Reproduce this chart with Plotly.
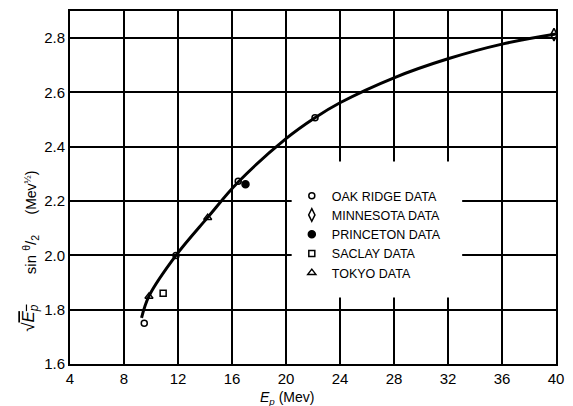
import plotly.graph_objects as go

# Measured points, E_p in MeV vs sqrt(E_p)*sin(theta/2)
oak_ridge_x = [9.5, 11.85, 16.46, 22.15]
oak_ridge_y = [1.75, 2.0, 2.273, 2.507]
minnesota_x = [39.85]
minnesota_y = [2.813]
princeton_x = [17.0]
princeton_y = [2.262]
saclay_x = [10.9]
saclay_y = [1.861]
tokyo_x = [9.85, 14.2]
tokyo_y = [1.849, 2.139]

# Smooth fitted curve through the data
curve_x = [9.3, 9.85, 11.85, 14.2, 16.46, 20.0, 22.15, 24.0, 28.0, 32.0, 36.0, 40.0]
curve_y = [1.77, 1.85, 2.0, 2.14, 2.27, 2.43, 2.507, 2.562, 2.654, 2.724, 2.778, 2.815]

x_ticks = [4, 8, 12, 16, 20, 24, 28, 32, 36, 40]
y_ticks = [1.6, 1.8, 2.0, 2.2, 2.4, 2.6, 2.8]

FONT = "Liberation Sans, Arial, sans-serif"

fig = go.Figure()

fig.add_trace(go.Scatter(
    x=curve_x, y=curve_y, mode="lines",
    line=dict(color="black", width=3, shape="spline", smoothing=1.0),
    showlegend=False, hoverinfo="skip",
))

series = [
    ("OAK RIDGE DATA", oak_ridge_x, oak_ridge_y, "circle-open", 6),
    ("MINNESOTA DATA", minnesota_x, minnesota_y, "diamond-tall-open", 9),
    ("PRINCETON DATA", princeton_x, princeton_y, "circle", 7),
    ("SACLAY DATA", saclay_x, saclay_y, "square-open", 6),
    ("TOKYO DATA", tokyo_x, tokyo_y, "triangle-up-open", 7),
]
for name, xs, ys, sym, sz in series:
    fig.add_trace(go.Scatter(
        x=xs, y=ys, mode="markers", name=name, cliponaxis=False,
        marker=dict(symbol=sym, size=sz, color="black",
                    line=dict(color="black", width=1.5)),
    ))

# White panel behind the legend, covering the grid
fig.add_shape(type="rect", xref="x", yref="y",
              x0=20.42, x1=33.05, y0=1.845, y1=2.346,
              fillcolor="white", line=dict(width=0), layer="between")

axis_common = dict(
    showline=True, linecolor="black", linewidth=2, mirror=True,
    showgrid=True, gridcolor="black", gridwidth=1.5,
    zeroline=False, ticks="", tickfont=dict(family=FONT, size=15, color="black"),
)

fig.update_xaxes(range=[4, 40], tickvals=x_ticks, ticktext=[str(v) for v in x_ticks],
                 **axis_common)
fig.update_yaxes(range=[1.6, 2.9], tickvals=y_ticks,
                 ticktext=[f"{v:.1f}" for v in y_ticks], **axis_common)

# Rotated y-axis label, built from three pieces along the axis
ylabel_parts = [
    ("√<span style='text-decoration:overline'><i>E<sub>p</sub></i></span>", 17, 318),
    ("sin <sup>θ</sup>/<sub>2</sub>", 15, 254),
    ("(Mev<sup>½</sup>)", 14, 192),
]
for txt, size, ypix in ylabel_parts:
    fig.add_annotation(
        xref="paper", yref="paper", x=(30 - 70) / 493, y=(364 - ypix) / 355,
        textangle=-90, showarrow=False, xanchor="center", yanchor="middle",
        text=txt, font=dict(family=FONT, size=size, color="black"),
    )

fig.add_annotation(
    xref="paper", yref="paper", x=(290 - 70) / 493, y=-0.095,
    showarrow=False, xanchor="center", yanchor="middle",
    text="<i>E<sub>p</sub></i> (Mev)",
    font=dict(family=FONT, size=14, color="black"),
)

fig.update_layout(
    width=573, height=406,
    margin=dict(l=70, r=10, t=9, b=42),
    paper_bgcolor="white", plot_bgcolor="white",
    legend=dict(x=(295 - 70) / 493, y=(364 - 180) / 355, xanchor="left", yanchor="top",
                bgcolor="rgba(0,0,0,0)", borderwidth=0,
                font=dict(family=FONT, size=12.5, color="black"),
                tracegroupgap=0, itemsizing="trace"),
)

fig.write_html("out.html")
